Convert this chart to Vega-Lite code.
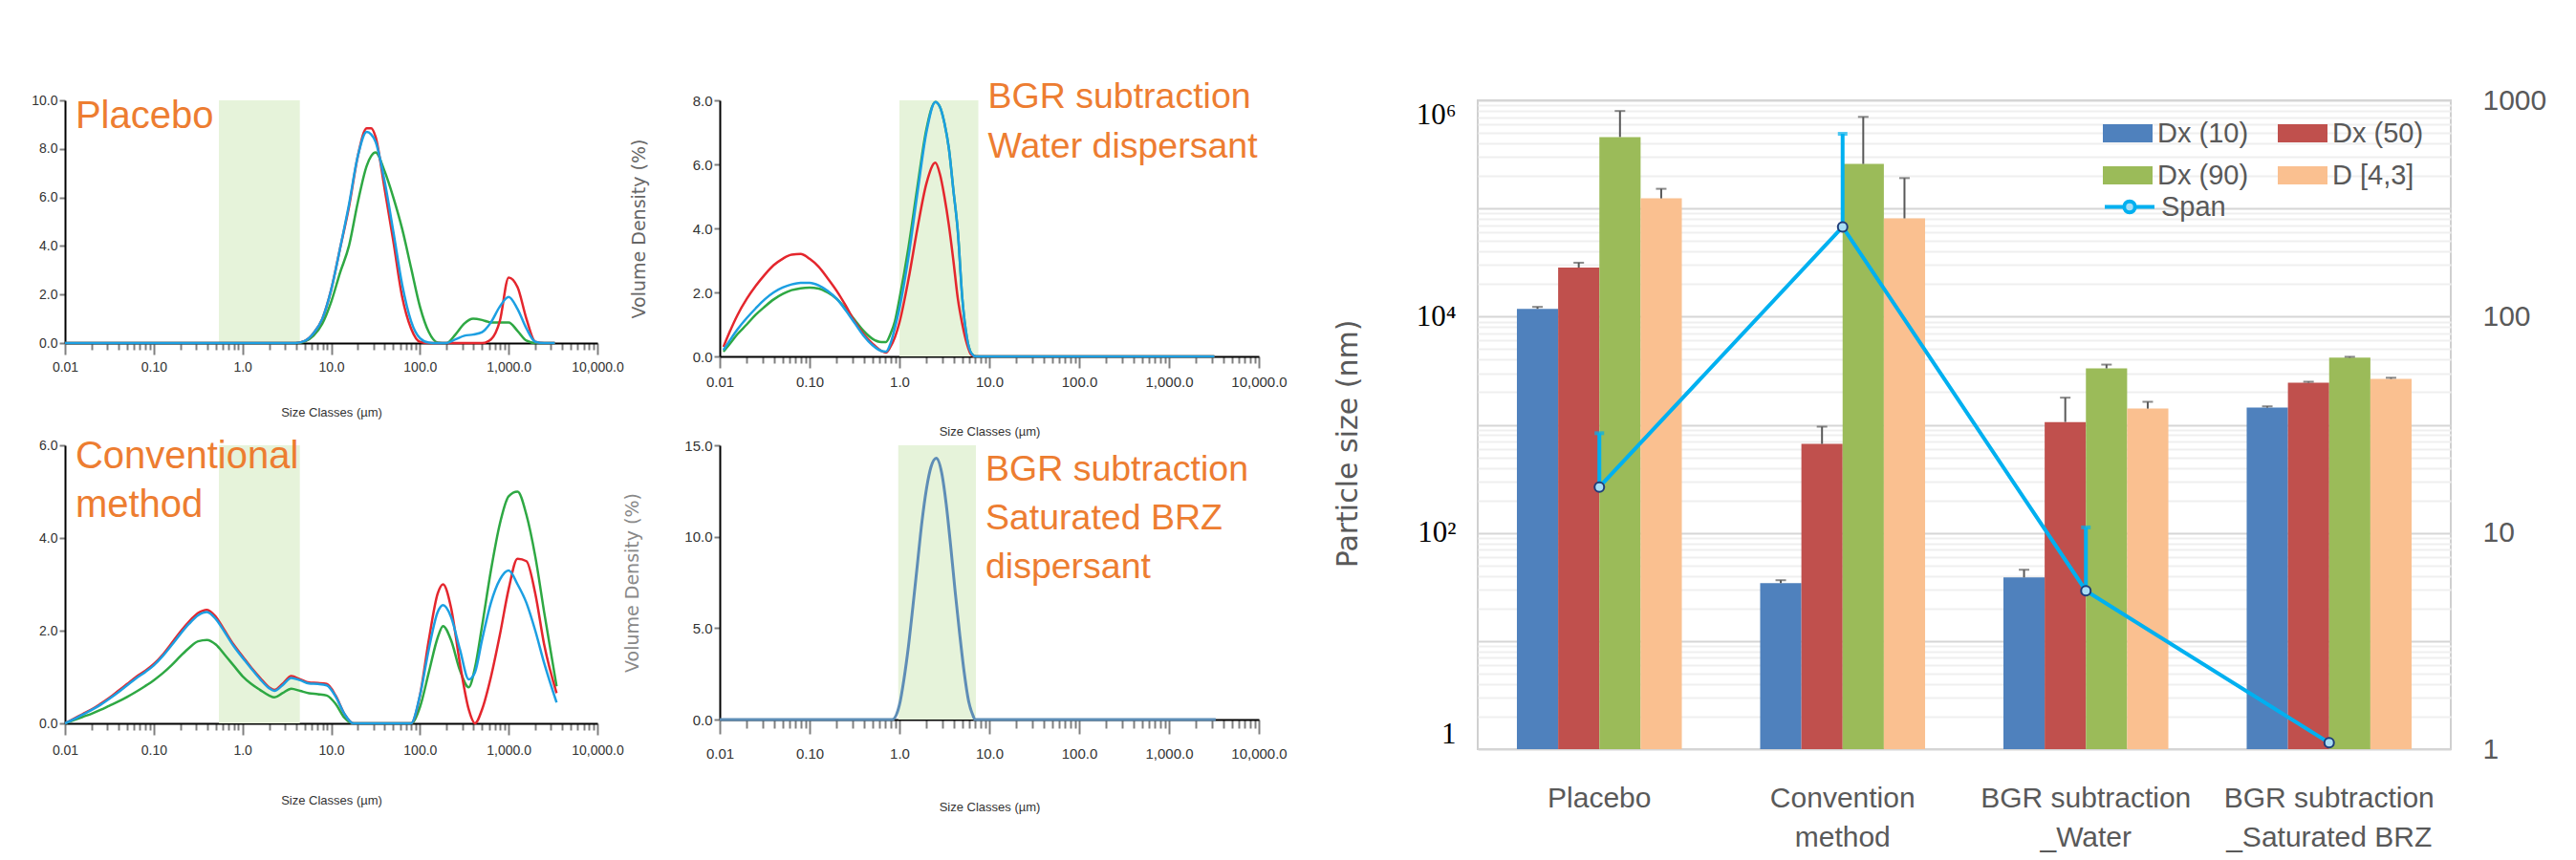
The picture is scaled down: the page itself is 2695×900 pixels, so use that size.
{
  "$schema": "https://vega.github.io/schema/vega-lite/v6.json",
  "background": "white",
  "padding": {"top": 83, "left": 32, "right": 10, "bottom": 5},
  "datasets": {
    "pA": [
      {"size": 0.01, "red": 0, "blue": 0, "green": 0},
      {"size": 3.981, "red": 0, "blue": 0, "green": 0},
      {"size": 5.012, "red": 0.08, "blue": 0.08, "green": 0.06},
      {"size": 6.31, "red": 0.4, "blue": 0.4, "green": 0.3},
      {"size": 7.943, "red": 1.0, "blue": 1.0, "green": 0.8},
      {"size": 10, "red": 2.2, "blue": 2.2, "green": 1.7},
      {"size": 12.59, "red": 3.9, "blue": 3.9, "green": 2.9},
      {"size": 15.85, "red": 5.6, "blue": 5.7, "green": 4.0},
      {"size": 19.95, "red": 7.7, "blue": 7.7, "green": 5.8},
      {"size": 25.12, "red": 8.85, "blue": 8.7, "green": 7.3},
      {"size": 28.18, "red": 8.85, "blue": 8.6, "green": 7.7},
      {"size": 31.62, "red": 8.5, "blue": 8.3, "green": 7.85},
      {"size": 39.81, "red": 6.4, "blue": 6.7, "green": 7.1},
      {"size": 50.12, "red": 4.2, "blue": 4.6, "green": 6.0},
      {"size": 63.1, "red": 1.9, "blue": 2.4, "green": 4.7},
      {"size": 79.43, "red": 0.6, "blue": 0.9, "green": 3.1},
      {"size": 100, "red": 0.05, "blue": 0.2, "green": 1.5},
      {"size": 125.9, "red": 0, "blue": 0.02, "green": 0.45},
      {"size": 158.5, "red": 0, "blue": 0, "green": 0.02},
      {"size": 199.5, "red": 0, "blue": 0, "green": 0},
      {"size": 251.2, "red": 0, "blue": 0.15, "green": 0.35},
      {"size": 316.2, "red": 0, "blue": 0.3, "green": 0.8},
      {"size": 398.1, "red": 0, "blue": 0.35, "green": 1.0},
      {"size": 501.2, "red": 0, "blue": 0.45, "green": 0.95},
      {"size": 631, "red": 0.15, "blue": 0.85, "green": 0.85},
      {"size": 794.3, "red": 0.9, "blue": 1.5, "green": 0.85},
      {"size": 1000, "red": 2.7, "blue": 1.9, "green": 0.85},
      {"size": 1259, "red": 2.3, "blue": 1.4, "green": 0.5},
      {"size": 1585, "red": 1.0, "blue": 0.6, "green": 0.1},
      {"size": 1995, "red": 0.05, "blue": 0.05, "green": 0},
      {"size": 2512, "red": 0, "blue": 0, "green": 0},
      {"size": 3311, "red": 0, "blue": 0, "green": 0}
    ],
    "pB": [
      {"size": 0.011, "red": 0.3, "blue": 0.2, "green": 0.15},
      {"size": 0.0126, "red": 0.7, "blue": 0.45, "green": 0.35},
      {"size": 0.0158, "red": 1.3, "blue": 0.85, "green": 0.7},
      {"size": 0.02, "red": 1.8, "blue": 1.2, "green": 1.0},
      {"size": 0.0251, "red": 2.2, "blue": 1.5, "green": 1.3},
      {"size": 0.0316, "red": 2.55, "blue": 1.78, "green": 1.55},
      {"size": 0.0398, "red": 2.85, "blue": 2.0, "green": 1.78},
      {"size": 0.0501, "red": 3.05, "blue": 2.15, "green": 1.95},
      {"size": 0.0631, "red": 3.18, "blue": 2.25, "green": 2.07},
      {"size": 0.0794, "red": 3.2, "blue": 2.3, "green": 2.13},
      {"size": 0.1, "red": 3.05, "blue": 2.3, "green": 2.15},
      {"size": 0.126, "red": 2.8, "blue": 2.22, "green": 2.12},
      {"size": 0.158, "red": 2.45, "blue": 2.05, "green": 2.0},
      {"size": 0.2, "red": 2.05, "blue": 1.8, "green": 1.8},
      {"size": 0.251, "red": 1.6, "blue": 1.45, "green": 1.5},
      {"size": 0.316, "red": 1.1, "blue": 1.05, "green": 1.15},
      {"size": 0.398, "red": 0.7, "blue": 0.65, "green": 0.8},
      {"size": 0.501, "red": 0.4, "blue": 0.35, "green": 0.55},
      {"size": 0.631, "red": 0.17, "blue": 0.17, "green": 0.45},
      {"size": 0.708, "red": 0.12, "blue": 0.15, "green": 0.45},
      {"size": 0.794, "red": 0.3, "blue": 0.4, "green": 0.7},
      {"size": 0.891, "red": 0.6, "blue": 0.9, "green": 1.1},
      {"size": 1, "red": 1.06, "blue": 1.5, "green": 1.8},
      {"size": 1.259, "red": 2.4, "blue": 3.1, "green": 3.4},
      {"size": 1.585, "red": 4.0, "blue": 5.1, "green": 5.3},
      {"size": 1.995, "red": 5.4, "blue": 7.0, "green": 7.1},
      {"size": 2.512, "red": 6.05, "blue": 7.95, "green": 7.95},
      {"size": 2.818, "red": 5.7, "blue": 7.8, "green": 7.8},
      {"size": 3.162, "red": 5.0, "blue": 7.3, "green": 7.3},
      {"size": 3.548, "red": 4.1, "blue": 6.5, "green": 6.5},
      {"size": 3.981, "red": 3.0, "blue": 5.2, "green": 5.2},
      {"size": 4.467, "red": 1.8, "blue": 3.9, "green": 3.9},
      {"size": 5.012, "red": 1.0, "blue": 1.8, "green": 1.8},
      {"size": 5.623, "red": 0.4, "blue": 0.6, "green": 0.6},
      {"size": 6.31, "red": 0.05, "blue": 0.1, "green": 0.1},
      {"size": 7.079, "red": 0, "blue": 0, "green": 0},
      {"size": 3200, "red": 0, "blue": 0, "green": 0}
    ],
    "pC": [
      {"size": 0.01, "red": 0, "blue": 0, "green": 0},
      {"size": 0.0126, "red": 0.1, "blue": 0.09, "green": 0.07},
      {"size": 0.0158, "red": 0.2, "blue": 0.19, "green": 0.14},
      {"size": 0.02, "red": 0.3, "blue": 0.29, "green": 0.21},
      {"size": 0.0251, "red": 0.42, "blue": 0.4, "green": 0.29},
      {"size": 0.0316, "red": 0.55, "blue": 0.53, "green": 0.38},
      {"size": 0.0398, "red": 0.7, "blue": 0.67, "green": 0.47},
      {"size": 0.0501, "red": 0.85, "blue": 0.82, "green": 0.57},
      {"size": 0.0631, "red": 1.0, "blue": 0.97, "green": 0.68},
      {"size": 0.0794, "red": 1.13, "blue": 1.1, "green": 0.8},
      {"size": 0.1, "red": 1.28, "blue": 1.25, "green": 0.93},
      {"size": 0.126, "red": 1.48, "blue": 1.45, "green": 1.08},
      {"size": 0.158, "red": 1.72, "blue": 1.68, "green": 1.25},
      {"size": 0.2, "red": 1.98, "blue": 1.93, "green": 1.45},
      {"size": 0.251, "red": 2.2, "blue": 2.15, "green": 1.63},
      {"size": 0.316, "red": 2.38, "blue": 2.33, "green": 1.77},
      {"size": 0.398, "red": 2.45, "blue": 2.4, "green": 1.8},
      {"size": 0.501, "red": 2.3, "blue": 2.25, "green": 1.7},
      {"size": 0.631, "red": 2.0, "blue": 1.97, "green": 1.48},
      {"size": 0.794, "red": 1.7, "blue": 1.67, "green": 1.25},
      {"size": 1, "red": 1.45, "blue": 1.42, "green": 1.02},
      {"size": 1.259, "red": 1.2, "blue": 1.18, "green": 0.85},
      {"size": 1.585, "red": 0.98, "blue": 0.95, "green": 0.72},
      {"size": 1.995, "red": 0.78, "blue": 0.76, "green": 0.6},
      {"size": 2.291, "red": 0.72, "blue": 0.7, "green": 0.56},
      {"size": 2.818, "red": 0.85, "blue": 0.82, "green": 0.65},
      {"size": 3.548, "red": 1.02, "blue": 0.98, "green": 0.75},
      {"size": 4.467, "red": 0.95, "blue": 0.93, "green": 0.7},
      {"size": 5.623, "red": 0.88, "blue": 0.86, "green": 0.65},
      {"size": 7.079, "red": 0.87, "blue": 0.85, "green": 0.63},
      {"size": 8.913, "red": 0.85, "blue": 0.82, "green": 0.6},
      {"size": 11.22, "red": 0.6, "blue": 0.58, "green": 0.42},
      {"size": 14.13, "red": 0.2, "blue": 0.2, "green": 0.12},
      {"size": 17.78, "red": 0, "blue": 0, "green": 0},
      {"size": 79.43, "red": 0, "blue": 0, "green": 0},
      {"size": 100, "red": 0.6, "blue": 0.6, "green": 0.35},
      {"size": 125.9, "red": 1.8, "blue": 1.6, "green": 1.1},
      {"size": 158.5, "red": 2.8, "blue": 2.4, "green": 1.85},
      {"size": 182, "red": 3.0, "blue": 2.55, "green": 2.1},
      {"size": 223.9, "red": 2.5, "blue": 2.3, "green": 1.8},
      {"size": 281.8, "red": 1.3, "blue": 1.6, "green": 1.15},
      {"size": 354.8, "red": 0.3, "blue": 0.95, "green": 0.78},
      {"size": 416.9, "red": 0, "blue": 1.1, "green": 1.2},
      {"size": 501.2, "red": 0.3, "blue": 1.8, "green": 2.1},
      {"size": 631, "red": 1.0, "blue": 2.6, "green": 3.3},
      {"size": 794.3, "red": 1.9, "blue": 3.1, "green": 4.3},
      {"size": 1000, "red": 2.9, "blue": 3.3, "green": 4.9},
      {"size": 1259, "red": 3.55, "blue": 3.0, "green": 5.0},
      {"size": 1585, "red": 3.5, "blue": 2.6, "green": 4.5},
      {"size": 1995, "red": 2.8, "blue": 2.0, "green": 3.6},
      {"size": 2512, "red": 1.7, "blue": 1.3, "green": 2.4},
      {"size": 3467, "red": 0.65, "blue": 0.45, "green": 0.8}
    ],
    "pD": [
      {"size": 0.01, "grey": 0},
      {"size": 0.832, "grey": 0},
      {"size": 1, "grey": 0.8},
      {"size": 1.122, "grey": 2.2},
      {"size": 1.259, "grey": 4.0},
      {"size": 1.413, "grey": 6.2},
      {"size": 1.585, "grey": 8.5},
      {"size": 1.778, "grey": 10.8},
      {"size": 1.995, "grey": 12.6},
      {"size": 2.239, "grey": 13.8},
      {"size": 2.57, "grey": 14.3},
      {"size": 2.951, "grey": 13.5},
      {"size": 3.311, "grey": 11.8},
      {"size": 3.715, "grey": 9.5},
      {"size": 4.169, "grey": 7.0},
      {"size": 4.677, "grey": 4.7},
      {"size": 5.248, "grey": 2.6},
      {"size": 5.888, "grey": 1.0},
      {"size": 6.607, "grey": 0.2},
      {"size": 6.918, "grey": 0},
      {"size": 3311, "grey": 0}
    ],
    "bars": [
      {"group": "Placebo", "metric": "Dx (10)", "value": 11800, "err": 12300},
      {"group": "Placebo", "metric": "Dx (50)", "value": 28400, "err": 31500},
      {"group": "Placebo", "metric": "Dx (90)", "value": 458000, "err": 797000},
      {"group": "Placebo", "metric": "D [4,3]", "value": 124000, "err": 152000},
      {"group": "Convention method", "metric": "Dx (10)", "value": 34.3, "err": 36.5},
      {"group": "Convention method", "metric": "Dx (50)", "value": 664, "err": 960},
      {"group": "Convention method", "metric": "Dx (90)", "value": 258000, "err": 703000},
      {"group": "Convention method", "metric": "D [4,3]", "value": 81000, "err": 191000},
      {"group": "BGR subtraction _Water", "metric": "Dx (10)", "value": 38.7, "err": 45.6},
      {"group": "BGR subtraction _Water", "metric": "Dx (50)", "value": 1060, "err": 1780},
      {"group": "BGR subtraction _Water", "metric": "Dx (90)", "value": 3320, "err": 3600},
      {"group": "BGR subtraction _Water", "metric": "D [4,3]", "value": 1410, "err": 1630},
      {"group": "BGR subtraction _Saturated BRZ", "metric": "Dx (10)", "value": 1440, "err": 1480},
      {"group": "BGR subtraction _Saturated BRZ", "metric": "Dx (50)", "value": 2450, "err": 2500},
      {"group": "BGR subtraction _Saturated BRZ", "metric": "Dx (90)", "value": 4170, "err": 4250},
      {"group": "BGR subtraction _Saturated BRZ", "metric": "D [4,3]", "value": 2660, "err": 2720}
    ],
    "span": [
      {"group": "Placebo", "series": "Span", "span": 16.3, "span_hi": 28.9},
      {"group": "Convention method", "series": "Span", "span": 260, "span_hi": 700},
      {"group": "BGR subtraction _Water", "series": "Span", "span": 5.4, "span_hi": 10.6},
      {"group": "BGR subtraction _Saturated BRZ", "series": "Span", "span": 1.07}
    ]
  },
  "resolve": {"scale": {"color": "independent", "stroke": "independent"}, "legend": {"color": "independent", "stroke": "independent"}},
  "spacing": 47,
  "hconcat": [
    {
      "concat": [
        {
          "width": 557, "height": 254,
          "layer": [
            {
              "data": {"values": [{"lo": 0.543, "hi": 4.43}]},
              "mark": {"type": "rect", "color": "#E6F3DA"},
              "encoding": {
                "x": {"field": "lo", "type": "quantitative", "title": "Size Classes (µm)",
                  "scale": {"type": "log", "domain": [0.01, 10000]},
                  "axis": {"values": [0.01,0.02,0.03,0.04,0.05,0.06,0.07,0.08,0.09,0.1,0.2,0.3,0.4,0.5,0.6,0.7,0.8,0.9,1,2,3,4,5,6,7,8,9,10,20,30,40,50,60,70,80,90,100,200,300,400,500,600,700,800,900,1000,2000,3000,4000,5000,6000,7000,8000,9000,10000],
                    "labelExpr": "indexof([0.01,0.1,1,10,100,1000,10000], datum.value) < 0 ? '' : datum.value < 0.05 ? '0.01' : datum.value < 0.5 ? '0.10' : format(datum.value, ',.1f')",
                    "labelOverlap": false, "labelFlush": false,
                    "tickSize": {"condition": {"test": "indexof([0.01,0.1,1,10,100,1000,10000], datum.value) >= 0", "value": 12}, "value": 7},
                    "tickColor": "#808080", "tickWidth": 2, "domainColor": "#000000", "domainWidth": 2, "grid": false,
                    "labelFont": "Liberation Sans", "labelFontSize": 14, "labelColor": "#333333", "labelPadding": 6,
                    "titleFont": "Liberation Sans", "titleFontSize": 13, "titleFontWeight": "normal", "titleColor": "#333333", "titlePadding": 34}},
                "x2": {"field": "hi"},
                "y": {"datum": 0, "type": "quantitative", "title": null,
                  "scale": {"domain": [0, 10], "nice": false},
                  "axis": {"values": [0, 2, 4, 6, 8, 10], "format": ".1f", "tickSize": 6, "tickColor": "#808080", "tickWidth": 2, "domainColor": "#000000", "domainWidth": 2, "grid": false,
                    "labelFont": "Liberation Sans", "labelFontSize": 14, "labelColor": "#333333", "labelPadding": 2}},
                "y2": {"datum": 10}
              }
            },
            {
              "data": {"name": "pA"},
              "transform": [{"fold": ["green", "red", "blue"], "as": ["series", "vol"]}],
              "mark": {"type": "line", "strokeWidth": 2.5, "interpolate": "monotone"},
              "encoding": {
                "x": {"field": "size", "type": "quantitative", "title": "Size Classes (µm)"},
                "y": {"field": "vol", "type": "quantitative", "title": null, "scale": {"domain": [0, 10], "nice": false}},
                "color": {"field": "series", "type": "nominal", "legend": null,
                  "scale": {"domain": ["green", "red", "blue", "grey"], "range": ["#2EA843", "#E4262D", "#1C9FE2", "#5E8DB6"]}}
              }
            },
            {
              "data": {"values": [{"label": "Placebo"}]},
              "mark": {"type": "text", "font": "Liberation Sans", "fontSize": 40, "color": "#ED7D31", "align": "left", "baseline": "alphabetic", "lineHeight": 51},
              "encoding": {
                "text": {"field": "label"},
                "x": {"datum": 0.0131, "type": "quantitative", "title": "Size Classes (µm)"},
                "y": {"datum": 8.85, "type": "quantitative", "title": null}
              }
            }
          ]
        },
        {
          "width": 564, "height": 268,
          "layer": [
            {
              "data": {"values": [{"lo": 1.0, "hi": 7.55}]},
              "mark": {"type": "rect", "color": "#E6F3DA"},
              "encoding": {
                "x": {"field": "lo", "type": "quantitative", "title": "Size Classes (µm)",
                  "scale": {"type": "log", "domain": [0.01, 10000]},
                  "axis": {"values": [0.01,0.02,0.03,0.04,0.05,0.06,0.07,0.08,0.09,0.1,0.2,0.3,0.4,0.5,0.6,0.7,0.8,0.9,1,2,3,4,5,6,7,8,9,10,20,30,40,50,60,70,80,90,100,200,300,400,500,600,700,800,900,1000,2000,3000,4000,5000,6000,7000,8000,9000,10000],
                    "labelExpr": "indexof([0.01,0.1,1,10,100,1000,10000], datum.value) < 0 ? '' : datum.value < 0.05 ? '0.01' : datum.value < 0.5 ? '0.10' : format(datum.value, ',.1f')",
                    "labelOverlap": false, "labelFlush": false,
                    "tickSize": {"condition": {"test": "indexof([0.01,0.1,1,10,100,1000,10000], datum.value) >= 0", "value": 12}, "value": 7},
                    "tickColor": "#808080", "tickWidth": 2, "domainColor": "#000000", "domainWidth": 2, "grid": false,
                    "labelFont": "Liberation Sans", "labelFontSize": 15, "labelColor": "#333333", "labelPadding": 7,
                    "titleFont": "Liberation Sans", "titleFontSize": 13, "titleFontWeight": "normal", "titleColor": "#333333", "titlePadding": 38}},
                "x2": {"field": "hi"},
                "y": {"datum": 0, "type": "quantitative", "title": "Volume Density (%)",
                  "scale": {"domain": [0, 8], "nice": false},
                  "axis": {"values": [0, 2, 4, 6, 8], "format": ".1f", "tickSize": 6, "tickColor": "#808080", "tickWidth": 2, "domainColor": "#000000", "domainWidth": 2, "grid": false,
                    "labelFont": "Liberation Sans", "labelFontSize": 15, "labelColor": "#333333", "labelPadding": 2,
                    "titleFont": "DejaVu Sans", "titleFontSize": 19, "titleFontWeight": "normal", "titleColor": "#666666", "titlePadding": 46}},
                "y2": {"datum": 8}
              }
            },
            {
              "data": {"name": "pB"},
              "transform": [{"fold": ["green", "red", "blue"], "as": ["series", "vol"]}],
              "mark": {"type": "line", "strokeWidth": 2.5, "interpolate": "monotone"},
              "encoding": {
                "x": {"field": "size", "type": "quantitative", "title": "Size Classes (µm)"},
                "y": {"field": "vol", "type": "quantitative", "title": "Volume Density (%)", "scale": {"domain": [0, 8], "nice": false}},
                "color": {"field": "series", "type": "nominal", "legend": null,
                  "scale": {"domain": ["green", "red", "blue", "grey"], "range": ["#2EA843", "#E4262D", "#1C9FE2", "#5E8DB6"]}}
              }
            },
            {
              "data": {"values": [{"label": ["BGR subtraction", "Water dispersant"]}]},
              "mark": {"type": "text", "font": "Liberation Sans", "fontSize": 37.5, "color": "#ED7D31", "align": "left", "baseline": "alphabetic", "lineHeight": 52},
              "encoding": {
                "text": {"field": "label"},
                "x": {"datum": 9.64, "type": "quantitative", "title": "Size Classes (µm)"},
                "y": {"datum": 7.76, "type": "quantitative", "title": "Volume Density (%)"}
              }
            }
          ]
        },
        {
          "width": 557, "height": 291,
          "layer": [
            {
              "data": {"values": [{"lo": 0.543, "hi": 4.43}]},
              "mark": {"type": "rect", "color": "#E6F3DA"},
              "encoding": {
                "x": {"field": "lo", "type": "quantitative", "title": "Size Classes (µm)",
                  "scale": {"type": "log", "domain": [0.01, 10000]},
                  "axis": {"values": [0.01,0.02,0.03,0.04,0.05,0.06,0.07,0.08,0.09,0.1,0.2,0.3,0.4,0.5,0.6,0.7,0.8,0.9,1,2,3,4,5,6,7,8,9,10,20,30,40,50,60,70,80,90,100,200,300,400,500,600,700,800,900,1000,2000,3000,4000,5000,6000,7000,8000,9000,10000],
                    "labelExpr": "indexof([0.01,0.1,1,10,100,1000,10000], datum.value) < 0 ? '' : datum.value < 0.05 ? '0.01' : datum.value < 0.5 ? '0.10' : format(datum.value, ',.1f')",
                    "labelOverlap": false, "labelFlush": false,
                    "tickSize": {"condition": {"test": "indexof([0.01,0.1,1,10,100,1000,10000], datum.value) >= 0", "value": 12}, "value": 7},
                    "tickColor": "#808080", "tickWidth": 2, "domainColor": "#000000", "domainWidth": 2, "grid": false,
                    "labelFont": "Liberation Sans", "labelFontSize": 14, "labelColor": "#333333", "labelPadding": 9,
                    "titleFont": "Liberation Sans", "titleFontSize": 13, "titleFontWeight": "normal", "titleColor": "#333333", "titlePadding": 39}},
                "x2": {"field": "hi"},
                "y": {"datum": 0, "type": "quantitative", "title": null,
                  "scale": {"domain": [0, 6], "nice": false},
                  "axis": {"values": [0, 2, 4, 6], "format": ".1f", "tickSize": 6, "tickColor": "#808080", "tickWidth": 2, "domainColor": "#000000", "domainWidth": 2, "grid": false,
                    "labelFont": "Liberation Sans", "labelFontSize": 14, "labelColor": "#333333", "labelPadding": 2}},
                "y2": {"datum": 6}
              }
            },
            {
              "data": {"name": "pC"},
              "transform": [{"fold": ["green", "red", "blue"], "as": ["series", "vol"]}],
              "mark": {"type": "line", "strokeWidth": 2.5, "interpolate": "monotone"},
              "encoding": {
                "x": {"field": "size", "type": "quantitative", "title": "Size Classes (µm)"},
                "y": {"field": "vol", "type": "quantitative", "title": null, "scale": {"domain": [0, 6], "nice": false}},
                "color": {"field": "series", "type": "nominal", "legend": null,
                  "scale": {"domain": ["green", "red", "blue", "grey"], "range": ["#2EA843", "#E4262D", "#1C9FE2", "#5E8DB6"]}}
              }
            },
            {
              "data": {"values": [{"label": ["Conventional", "method"]}]},
              "mark": {"type": "text", "font": "Liberation Sans", "fontSize": 40, "color": "#ED7D31", "align": "left", "baseline": "alphabetic", "lineHeight": 51},
              "encoding": {
                "text": {"field": "label"},
                "x": {"datum": 0.0131, "type": "quantitative", "title": "Size Classes (µm)"},
                "y": {"datum": 5.505, "type": "quantitative", "title": null}
              }
            }
          ]
        },
        {
          "width": 564, "height": 287,
          "layer": [
            {
              "data": {"values": [{"lo": 0.97, "hi": 7.1}]},
              "mark": {"type": "rect", "color": "#E6F3DA"},
              "encoding": {
                "x": {"field": "lo", "type": "quantitative", "title": "Size Classes (µm)",
                  "scale": {"type": "log", "domain": [0.01, 10000]},
                  "axis": {"values": [0.01,0.02,0.03,0.04,0.05,0.06,0.07,0.08,0.09,0.1,0.2,0.3,0.4,0.5,0.6,0.7,0.8,0.9,1,2,3,4,5,6,7,8,9,10,20,30,40,50,60,70,80,90,100,200,300,400,500,600,700,800,900,1000,2000,3000,4000,5000,6000,7000,8000,9000,10000],
                    "labelExpr": "indexof([0.01,0.1,1,10,100,1000,10000], datum.value) < 0 ? '' : datum.value < 0.05 ? '0.01' : datum.value < 0.5 ? '0.10' : format(datum.value, ',.1f')",
                    "labelOverlap": false, "labelFlush": false,
                    "tickSize": {"condition": {"test": "indexof([0.01,0.1,1,10,100,1000,10000], datum.value) >= 0", "value": 15}, "value": 9},
                    "tickColor": "#808080", "tickWidth": 2, "domainColor": "#000000", "domainWidth": 2, "grid": false,
                    "labelFont": "Liberation Sans", "labelFontSize": 15, "labelColor": "#333333", "labelPadding": 13,
                    "titleFont": "Liberation Sans", "titleFontSize": 13, "titleFontWeight": "normal", "titleColor": "#333333", "titlePadding": 42}},
                "x2": {"field": "hi"},
                "y": {"datum": 0, "type": "quantitative", "title": "Volume Density (%)",
                  "scale": {"domain": [0, 15], "nice": false},
                  "axis": {"values": [0, 5, 10, 15], "format": ".1f", "tickSize": 6, "tickColor": "#808080", "tickWidth": 2, "domainColor": "#000000", "domainWidth": 2, "grid": false,
                    "labelFont": "Liberation Sans", "labelFontSize": 15, "labelColor": "#333333", "labelPadding": 2,
                    "titleFont": "DejaVu Sans", "titleFontSize": 19, "titleFontWeight": "normal", "titleColor": "#888888", "titlePadding": 44}},
                "y2": {"datum": 15}
              }
            },
            {
              "data": {"name": "pD"},
              "transform": [{"fold": ["grey"], "as": ["series", "vol"]}],
              "mark": {"type": "line", "strokeWidth": 3, "interpolate": "monotone"},
              "encoding": {
                "x": {"field": "size", "type": "quantitative", "title": "Size Classes (µm)"},
                "y": {"field": "vol", "type": "quantitative", "title": "Volume Density (%)", "scale": {"domain": [0, 15], "nice": false}},
                "color": {"field": "series", "type": "nominal", "legend": null,
                  "scale": {"domain": ["green", "red", "blue", "grey"], "range": ["#2EA843", "#E4262D", "#1C9FE2", "#5E8DB6"]}}
              }
            },
            {
              "data": {"values": [{"label": ["BGR subtraction", "Saturated BRZ", "dispersant"]}]},
              "mark": {"type": "text", "font": "Liberation Sans", "fontSize": 37.5, "color": "#ED7D31", "align": "left", "baseline": "alphabetic", "lineHeight": 51},
              "encoding": {
                "text": {"field": "label"},
                "x": {"datum": 9.06, "type": "quantitative", "title": "Size Classes (µm)"},
                "y": {"datum": 13.07, "type": "quantitative", "title": "Volume Density (%)"}
              }
            }
          ]
        }
      ],
      "columns": 2,
      "bounds": "flush",
      "align": "each",
      "spacing": {"row": 93, "column": 128}
    },
    {
      "width": 1018, "height": 679,
      "view": {"stroke": "#D0D0D0", "strokeWidth": 2},
      "layer": [
        {
          "data": {"name": "bars"},
          "layer": [
            {
              "mark": {"type": "bar"},
              "encoding": {
                "x": {"field": "group", "type": "nominal", "title": null,
                  "scale": {"domain": ["Placebo", "Convention method", "BGR subtraction _Water", "BGR subtraction _Saturated BRZ"], "paddingInner": 0.322, "paddingOuter": 0.161},
                  "axis": {"labelAngle": 0, "ticks": false, "domain": false, "grid": false,
                    "labelExpr": "datum.label == 'Convention method' ? ['Convention', 'method'] : indexof(datum.label, 'BGR') == 0 ? ['BGR subtraction', slice(datum.label, 16)] : datum.label",
                    "labelFont": "Liberation Sans", "labelFontSize": 30, "labelColor": "#595959", "labelPadding": 36, "labelLineHeight": 41, "labelLimit": 400}},
                "xOffset": {"field": "metric", "type": "nominal",
                  "scale": {"domain": ["Dx (10)", "Dx (50)", "Dx (90)", "D [4,3]"], "paddingInner": 0, "paddingOuter": 0}},
                "y": {"field": "value", "type": "quantitative", "title": "Particle size (nm)",
                  "scale": {"type": "log", "domain": [1, 1000000]},
                  "axis": {"values": [1,2,3,4,5,6,7,8,9,10,20,30,40,50,60,70,80,90,100,200,300,400,500,600,700,800,900,1000,2000,3000,4000,5000,6000,7000,8000,9000,10000,20000,30000,40000,50000,60000,70000,80000,90000,100000,200000,300000,400000,500000,600000,700000,800000,900000,1000000],
                    "labelExpr": "datum.value == 1 ? '1' : datum.value == 100 ? '10²' : datum.value == 10000 ? '10⁴' : datum.value == 1000000 ? '10⁶' : ''",
                    "labelOverlap": false, "labelFlush": true, "ticks": false, "domain": false,
                    "grid": true, "gridWidth": 2,
                    "gridColor": {"condition": {"test": "indexof([1,10,100,1000,10000,100000,1000000], datum.value) >= 0", "value": "#D6D6D6"}, "value": "#EFEFEF"},
                    "labelFont": "Liberation Serif", "labelFontSize": 31, "labelColor": "#000000", "labelPadding": 23,
                    "titleFont": "DejaVu Sans", "titleFontSize": 30, "titleFontWeight": "normal", "titleColor": "#595959", "titlePadding": 56, "titleY": 359}},
                "y2": {"datum": 1},
                "color": {"field": "metric", "type": "nominal",
                  "scale": {"domain": ["Dx (10)", "Dx (50)", "Dx (90)", "D [4,3]"], "range": ["#4F81BD", "#C0504D", "#9BBB59", "#FAC090"]},
                  "legend": {"orient": "none", "legendX": 654, "legendY": 8.5, "title": null, "columns": 2, "direction": "horizontal",
                    "symbolType": "M-1,-0.365H1V0.365H-1Z", "symbolSize": 2704, "symbolStrokeWidth": 0,
                    "labelFont": "Liberation Sans", "labelFontSize": 29, "labelColor": "#595959", "labelOffset": 5,
                    "columnPadding": 30, "rowPadding": 3}}
              }
            },
            {
              "mark": {"type": "rule", "color": "#595959", "strokeWidth": 2},
              "encoding": {
                "x": {"field": "group", "type": "nominal", "title": null},
                "xOffset": {"field": "metric", "type": "nominal"},
                "y": {"field": "value", "type": "quantitative", "title": "Particle size (nm)"},
                "y2": {"field": "err"}
              }
            },
            {
              "mark": {"type": "tick", "color": "#595959", "thickness": 2, "size": 11},
              "encoding": {
                "x": {"field": "group", "type": "nominal", "title": null},
                "xOffset": {"field": "metric", "type": "nominal"},
                "y": {"field": "err", "type": "quantitative", "title": "Particle size (nm)"}
              }
            }
          ]
        },
        {
          "data": {"name": "span"},
          "layer": [
            {
              "transform": [{"filter": "isValid(datum.span_hi)"}],
              "mark": {"type": "rule", "color": "#00B0F0", "strokeWidth": 4},
              "encoding": {
                "x": {"field": "group", "type": "nominal", "title": null},
                "y": {"field": "span", "type": "quantitative", "title": null,
                  "scale": {"type": "log", "domain": [1, 1000]},
                  "axis": {"orient": "right", "values": [1, 10, 100, 1000], "format": "d", "ticks": false, "domain": false, "grid": false,
                    "labelFont": "Liberation Sans", "labelFontSize": 30, "labelColor": "#595959", "labelPadding": 33}},
                "y2": {"field": "span_hi"}
              }
            },
            {
              "transform": [{"filter": "isValid(datum.span_hi)"}],
              "mark": {"type": "tick", "color": "#00B0F0", "thickness": 4, "size": 10},
              "encoding": {
                "x": {"field": "group", "type": "nominal", "title": null},
                "y": {"field": "span_hi", "type": "quantitative", "title": null}
              }
            },
            {
              "mark": {"type": "line", "strokeWidth": 4},
              "encoding": {
                "x": {"field": "group", "type": "nominal", "title": null},
                "y": {"field": "span", "type": "quantitative", "title": null},
                "order": {"value": null},
                "stroke": {"field": "series", "type": "nominal", "scale": {"range": ["#00B0F0"]},
                  "legend": {"orient": "none", "legendX": 654, "legendY": 83.5, "title": null,
                    "symbolType": "M-1,0H-0.22M0.22,0H1M-0.22,0A0.22,0.22,0,1,0,0.22,0A0.22,0.22,0,1,0,-0.22,0", "symbolSize": 2704, "symbolStrokeWidth": 4,
                    "labelFont": "Liberation Sans", "labelFontSize": 29, "labelColor": "#595959", "labelOffset": 5,
                    "encode": {"symbols": {"update": {"fill": {"value": "#A9DEF5"}}}}}}
              }
            },
            {
              "mark": {"type": "point", "shape": "circle", "filled": true, "fill": "#A9DEF5", "stroke": "#1F3D7A", "strokeWidth": 2, "size": 100, "opacity": 1},
              "encoding": {
                "x": {"field": "group", "type": "nominal", "title": null},
                "y": {"field": "span", "type": "quantitative", "title": null}
              }
            }
          ]
        }
      ],
      "resolve": {"scale": {"y": "independent"}, "axis": {"y": "independent"}}
    }
  ],
  "config": {
    "view": {"stroke": null}
  }
}
